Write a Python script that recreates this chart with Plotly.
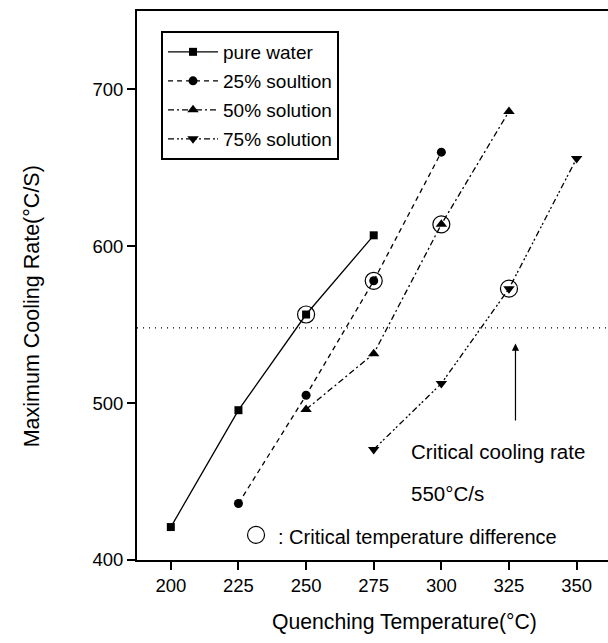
import plotly.graph_objects as go

# ---- data ----
temp_pure = [200, 225, 250, 275]
rate_pure = [421, 495.5, 556.5, 607]
temp_25 = [225, 250, 275, 300]
rate_25 = [436, 505, 578, 660]
temp_50 = [250, 275, 300, 325]
rate_50 = [496, 531.5, 614, 686]
temp_75 = [275, 300, 325, 350]
rate_75 = [470.5, 512.5, 573, 656]
crit_temp = [250, 275, 300, 325]
crit_rate = [556.5, 578, 614, 573]
critical_rate_line = 548
x_ticks = [200, 225, 250, 275, 300, 325, 350]
y_ticks = [400, 500, 600, 700]

FONT = "Liberation Sans, Arial, sans-serif"
fig = go.Figure()

def series(x, y, name, dash, symbol, size):
    fig.add_trace(go.Scatter(
        x=x, y=y, name=name, mode="lines+markers",
        line=dict(color="black", width=1.3, dash=dash),
        marker=dict(symbol=symbol, size=size, color="black"),
        legendgroup=name,
    ))

series(temp_pure, rate_pure, "pure water", "solid", "square", 8)
series(temp_25, rate_25, "25% soultion", "5px,4px", "circle", 9)
series(temp_50, rate_50, "50% solution", "6px,3px,2px,3px", "triangle-up", 10)
series(temp_75, rate_75, "75% solution", "6px,3px,2px,2px,2px,3px", "triangle-down", 10)

fig.add_trace(go.Scatter(
    x=crit_temp, y=crit_rate, mode="markers", showlegend=False,
    marker=dict(symbol="circle-open", size=17, color="black", line=dict(width=1.2)),
))
# legend symbol for critical temperature difference
fig.add_trace(go.Scatter(
    x=[231.5], y=[416], mode="markers", showlegend=False,
    marker=dict(symbol="circle-open", size=17, color="black", line=dict(width=1.2)),
))

fig.add_shape(type="line", xref="paper", x0=0, x1=1, yref="y",
              y0=critical_rate_line, y1=critical_rate_line,
              line=dict(color="black", width=1.2, dash="1px,5px"))

ann_font = dict(family=FONT, size=20.5, color="black")
fig.add_annotation(x=327.4, y=538, ax=327.4, ay=488, xref="x", yref="y",
                   axref="x", ayref="y", text="", showarrow=True,
                   arrowhead=2, arrowsize=1.2, arrowwidth=1.2, arrowcolor="black")
fig.add_annotation(x=288, y=469, text="Critical cooling rate", showarrow=False,
                   xanchor="left", yanchor="middle", font=ann_font)
fig.add_annotation(x=288, y=442.6, text="550°C/s", showarrow=False,
                   xanchor="left", yanchor="middle", font=ann_font)
fig.add_annotation(x=239.0, y=414.5, text=": Critical temperature difference",
                   showarrow=False, xanchor="left", yanchor="middle",
                   font=dict(family=FONT, size=20, color="black"))

fig.add_annotation(xref="paper", yref="paper", x=0.567, y=-0.113,
                   text="Quenching Temperature(°C)", showarrow=False,
                   xanchor="center", yanchor="middle",
                   font=dict(family=FONT, size=21.2, color="black"))
fig.add_annotation(xref="paper", yref="paper", x=-0.223, y=0.462,
                   text="Maximum Cooling Rate(°C/S)", showarrow=False, textangle=-90,
                   xanchor="center", yanchor="middle",
                   font=dict(family=FONT, size=21.5, color="black"))

fig.update_layout(
    width=608, height=643,
    margin=dict(l=137, r=0, t=11, b=83),
    paper_bgcolor="white", plot_bgcolor="white",
    font=dict(family=FONT, size=18, color="black"),
    showlegend=True,
    legend=dict(x=0.051, y=0.9636, xanchor="left", yanchor="top",
                bordercolor="black", borderwidth=2, bgcolor="white",
                font=dict(family=FONT, size=19, color="black"),
                tracegroupgap=1.3, itemwidth=50),
    xaxis=dict(range=[187.5, 361.6], tickvals=x_ticks, showgrid=False, zeroline=False,
               showline=True, linecolor="black", linewidth=2, mirror=True,
               ticks="outside", ticklen=8, tickwidth=2, tickcolor="black",
               tickfont=dict(family=FONT, size=18.5, color="black")),
    yaxis=dict(range=[400, 750], tickvals=y_ticks, showgrid=False, zeroline=False,
               showline=True, linecolor="black", linewidth=2,
               ticks="outside", ticklen=8, tickwidth=2, tickcolor="black",
               tickfont=dict(family=FONT, size=18.5, color="black")),
)

fig.write_html("out.html")
